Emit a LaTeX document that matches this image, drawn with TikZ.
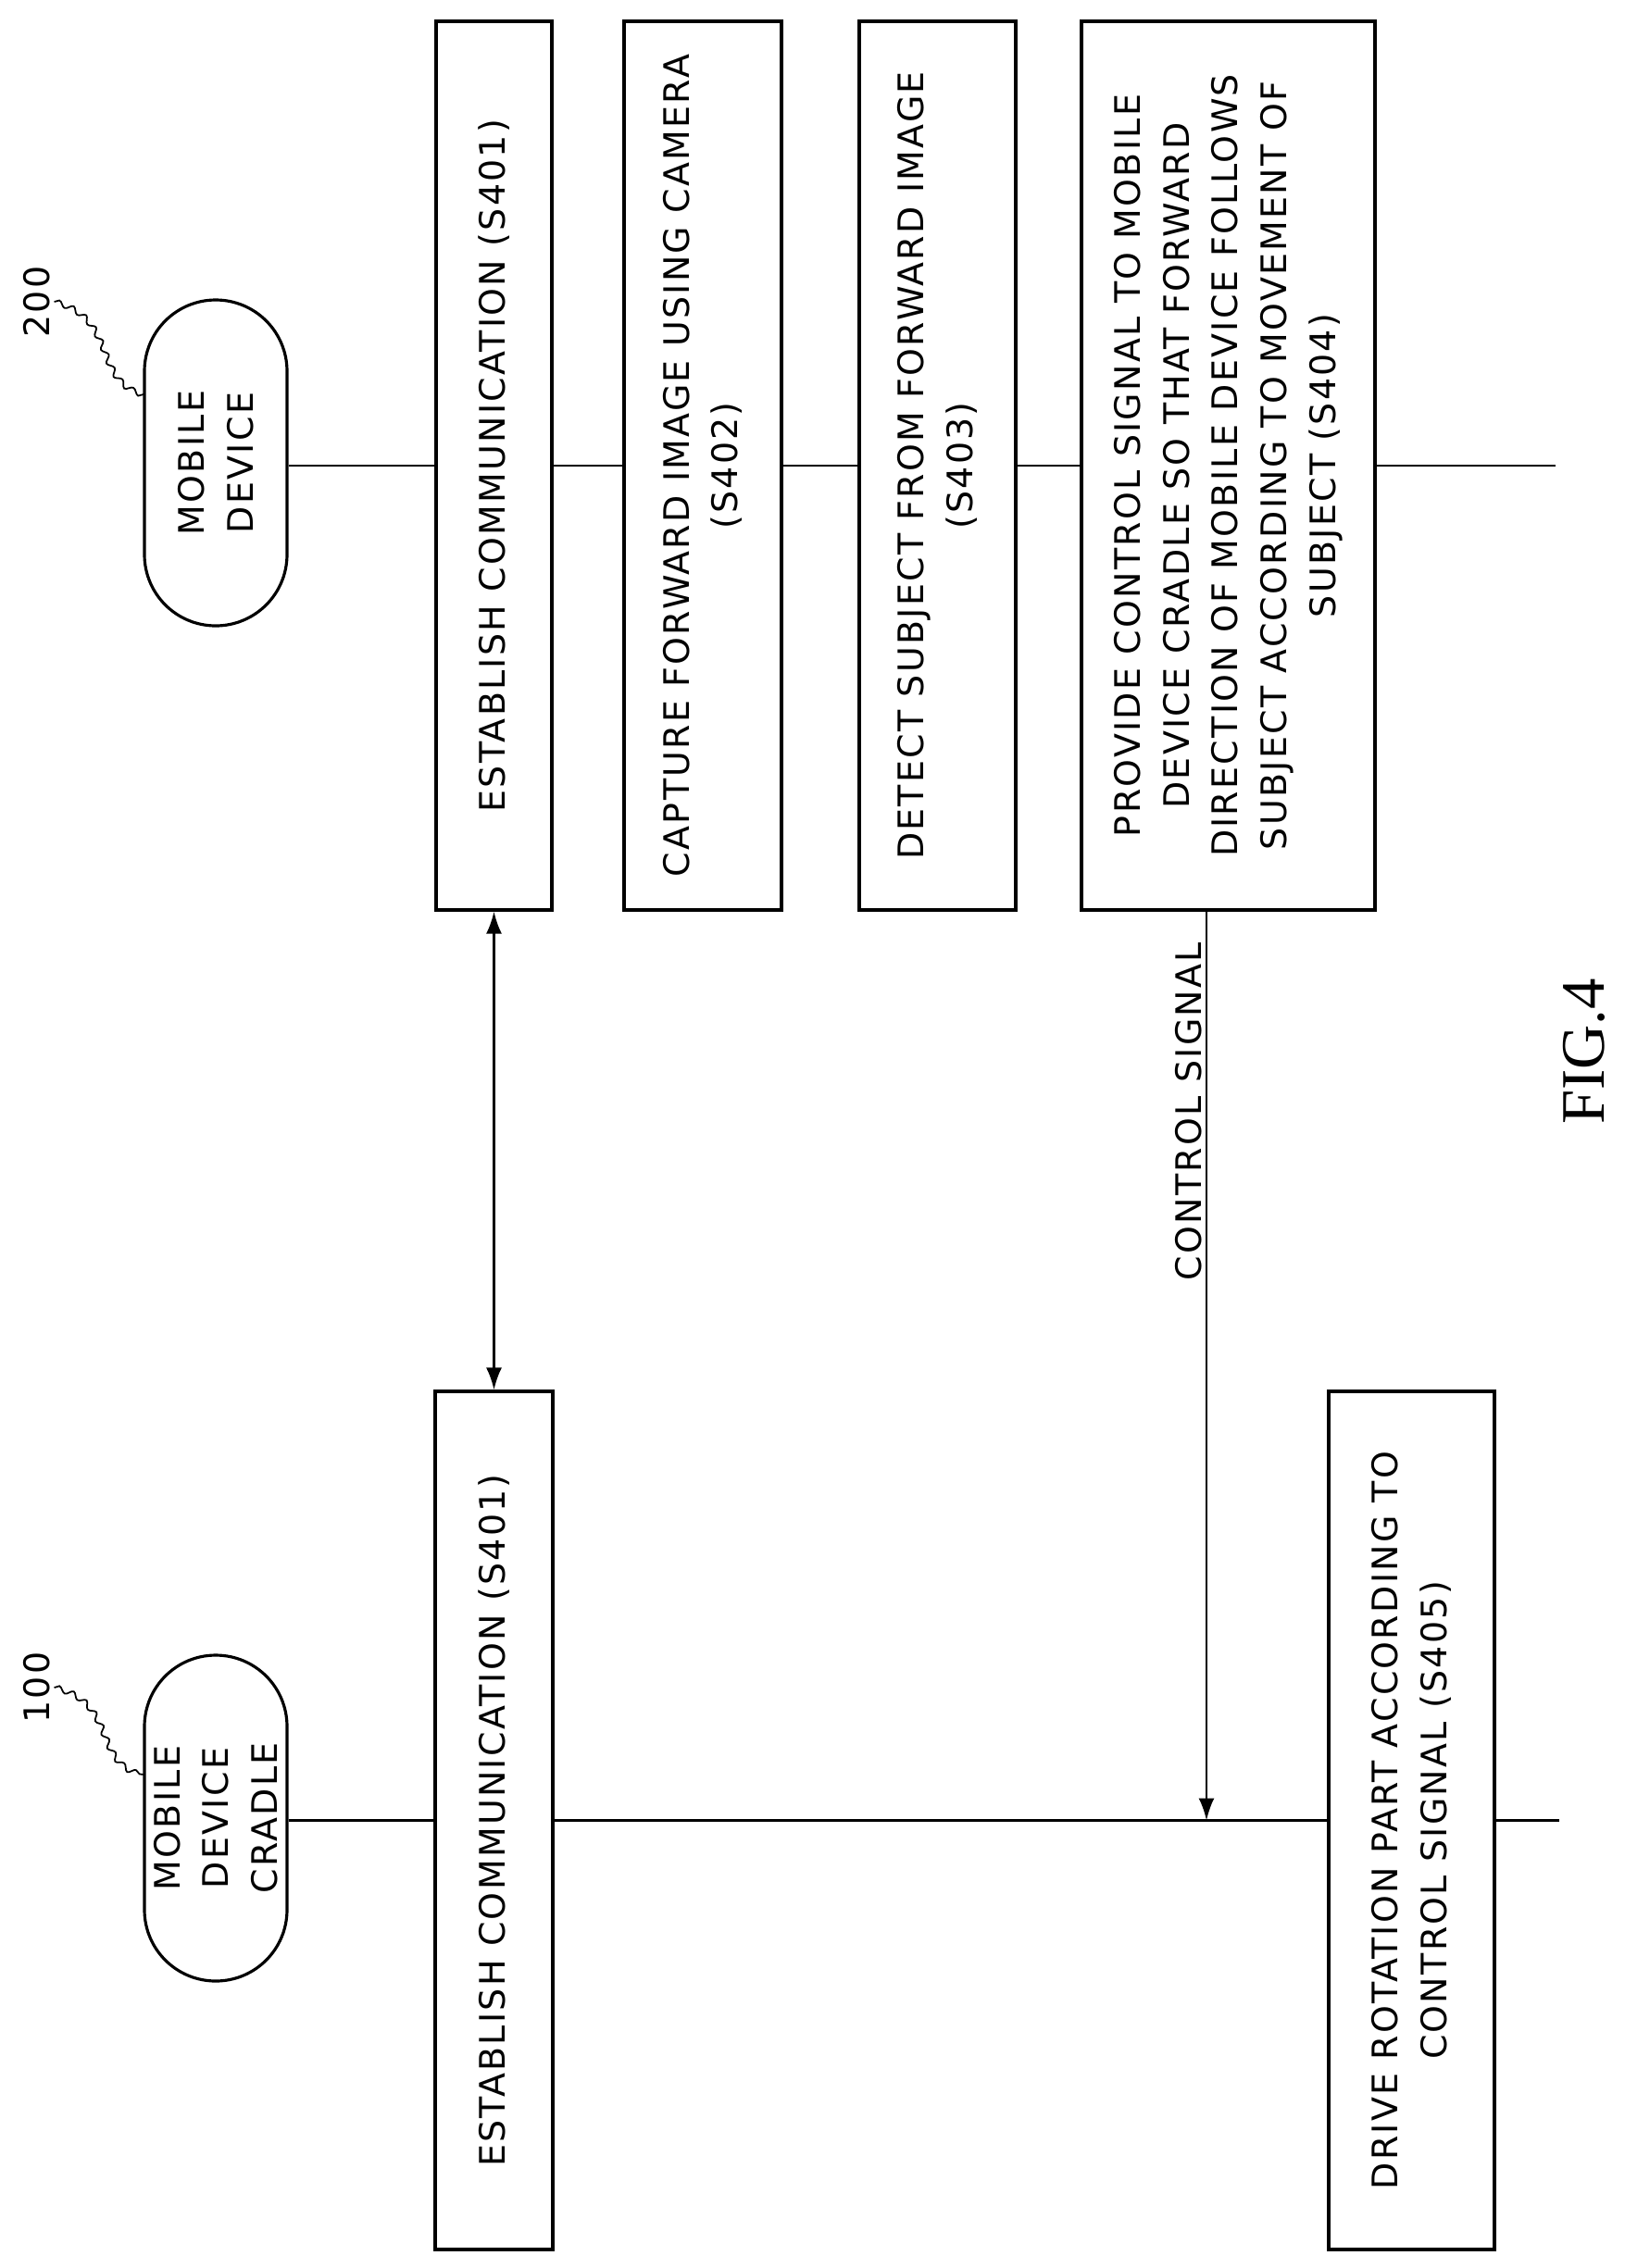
\documentclass[tikz,border=0pt]{standalone}
\usepackage{fontspec}
\setmainfont{DejaVu Sans}[LetterSpace=6]
\newfontfamily\figfont{Liberation Serif}
\usetikzlibrary{arrows.meta,decorations.pathmorphing}
\begin{document}
\begin{tikzpicture}[x=1cm,y=1cm,
  box/.style={draw,line width=0.9pt,rotate=90,inner sep=0pt,align=center,
    font=\fontsize{10.8}{15}\selectfont},
  pill/.style={draw,line width=0.9pt,rotate=90,inner sep=0pt,align=center,
    rounded corners=0.77cm,minimum width=3.52cm,minimum height=1.54cm,
    font=\fontsize{10.8}{15}\selectfont},
  life/.style={line width=0.7pt},
  arr/.style={line width=0.7pt,-{Latex[length=2.4mm,width=1.7mm]}},
  lbl/.style={rotate=90,font=\fontsize{10.8}{12}\selectfont,inner sep=1pt},
  squig/.style={line width=0.5pt,decorate,decoration={snake,amplitude=0.3mm,segment length=1.6mm}}]
\useasboundingbox (0,0) rectangle (17.54,-24.5);

% mobile device lane
\node[pill] (md) at (2.33,-5.00) {MOBILE\\DEVICE};
\node[box,minimum width=9.60cm,minimum height=1.25cm] (a1) at (5.335,-5.03) {ESTABLISH COMMUNICATION (S401)};
\node[box,minimum width=9.60cm,minimum height=1.70cm] (a2) at (7.59,-5.03) {CAPTURE FORWARD IMAGE USING CAMERA\\(S402)};
\node[box,minimum width=9.60cm,minimum height=1.69cm] (a3) at (10.125,-5.03) {DETECT SUBJECT FROM FORWARD IMAGE\\(S403)};
\node[box,minimum width=9.60cm,minimum height=3.17cm] (a4) at (13.265,-5.03) {PROVIDE CONTROL SIGNAL TO MOBILE\\DEVICE CRADLE SO THAT FORWARD\\DIRECTION OF MOBILE DEVICE FOLLOWS\\SUBJECT ACCORDING TO MOVEMENT OF\\SUBJECT (S404)};
\coordinate (aend) at (16.80,-5.03);

% cradle lane
\node[pill] (cr) at (2.33,-19.64) {MOBILE\\DEVICE\\CRADLE};
\node[box,minimum width=9.27cm,minimum height=1.27cm] (b1) at (5.335,-19.665) {ESTABLISH COMMUNICATION (S401)};
\node[box,minimum width=9.27cm,minimum height=1.79cm] (b5) at (15.245,-19.665) {DRIVE ROTATION PART ACCORDING TO\\CONTROL SIGNAL (S405)};
\coordinate (bend) at (16.84,-19.665);

% lifelines
\draw[life] (md.south |- a1) -- (a1.north);
\draw[life] (a1.south) -- (a2.north);
\draw[life] (a2.south) -- (a3.north);
\draw[life] (a3.south) -- (a4.north);
\draw[life] (a4.south) -- (aend);
\draw[life] (cr.south |- b1) -- (b1.north);
\draw[life] (b1.south) -- (b5.north);
\draw[life] (b5.south) -- (bend);

% messages
\draw[line width=0.7pt,{Latex[length=2.4mm,width=1.7mm]}-{Latex[length=2.4mm,width=1.7mm]}] (a1.west) -- (b1.east);
\coordinate (cx) at (13.03,0);
\draw[arr] (a4.west -| cx) -- (cx |- b1) node[pos=0.22,lbl,anchor=south] (cs) {CONTROL SIGNAL};

% reference labels
\node[lbl] (l200) at (0.40,-3.26) {200};
\coordinate (p200) at (1.56,-4.26);
\draw[squig] (l200.south) .. controls (1.25,-3.45) and (0.95,-4.15) .. (p200);
\node[lbl] (l100) at (0.40,-18.23) {100};
\coordinate (p100) at (1.56,-19.17);
\draw[squig] (l100.south) .. controls (1.25,-18.4) and (0.95,-19.1) .. (p100);

% figure label
\node[rotate=90,font=\figfont\fontsize{19}{21}\selectfont] (fig) at (17.11,-11.36) {FIG.4};
\end{tikzpicture}
\end{document}
